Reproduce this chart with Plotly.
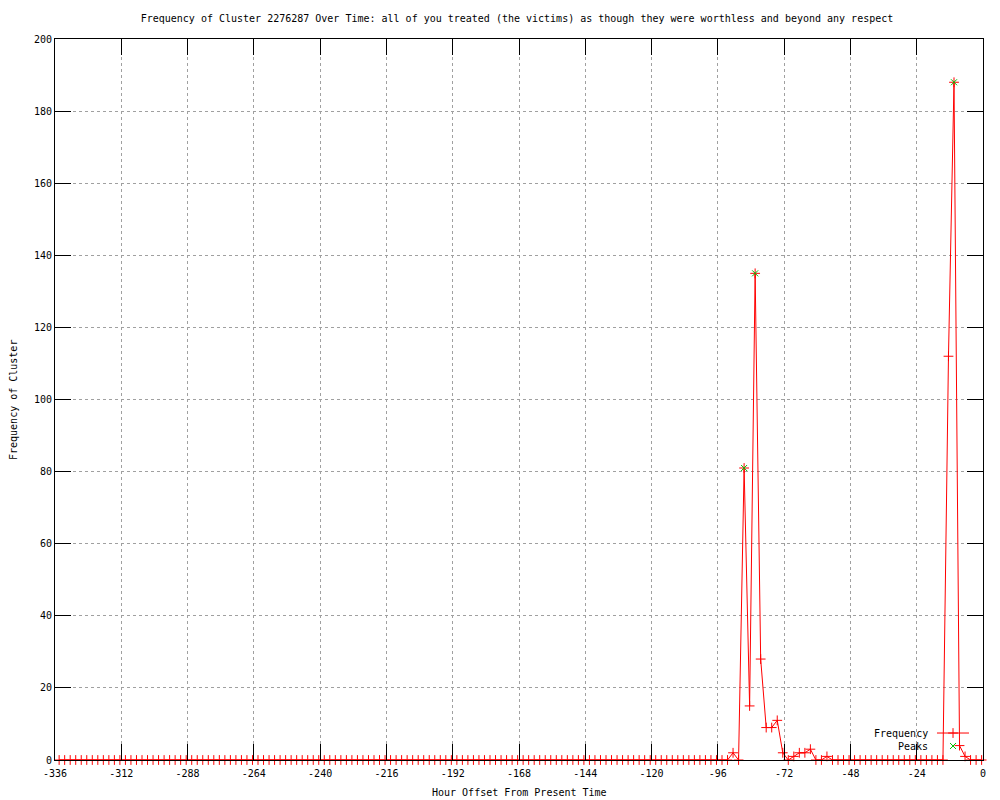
import plotly.graph_objects as go

# ---- data ----
title_text = ("Frequency of Cluster 2276287 Over Time: all of you treated "
              "(the victims) as though they were worthless and beyond any respect")

# 2-hour bins, hour offsets from -334.5 up to -0.5 (168 bins)
hours = [-0.5 - 2 * j for j in range(168)][::-1]

frequency = ([0] * 122
             + [2, 0, 81, 15, 135, 28, 9, 9, 11, 2, 0, 1, 2, 2, 3, 0, 0, 1]
             + [0] * 21
             + [112, 188, 4, 1, 0, 0, 0])

peak_hours = [-86.5, -82.5, -10.5]
peak_values = [81, 135, 188]

x_tickvals = [-336, -312, -288, -264, -240, -216, -192, -168, -144,
              -120, -96, -72, -48, -24, 0]
x_ticktext = ["-336", "-312", "-288", "-264", "-240", "-216", "-192", "-168",
              "-144", "-120", "-96", "-72", "-48", "-24", "0"]
y_tickvals = [0, 20, 40, 60, 80, 100, 120, 140, 160, 180, 200]

legend_names = ["Frequency", "Peaks"]

RED = "#ff0000"
GREEN = "#00c000"
FONT = "DejaVu Sans Mono"
FS = 10

# page body has an 8px margin; figure sized to sit inside the 1000x800 window
W, H = 992, 792

fig = go.Figure()

fig.add_trace(go.Scatter(
    x=hours, y=frequency, mode="lines+markers", name=legend_names[0],
    line=dict(color=RED, width=1),
    marker=dict(symbol="cross-thin", size=7, line=dict(color=RED, width=1)),
    showlegend=False, cliponaxis=False,
))
fig.add_trace(go.Scatter(
    x=peak_hours, y=peak_values, mode="markers", name=legend_names[1],
    marker=dict(symbol="x-thin", size=6, line=dict(color=GREEN, width=1)),
    showlegend=False, cliponaxis=False,
))

# legend samples on an invisible overlay axis (0..1 across the plot area)
fig.add_trace(go.Scatter(
    x=[0.9504, 0.9849], y=[0.0374, 0.0374], xaxis="x2", yaxis="y2",
    mode="lines", line=dict(color=RED, width=1), showlegend=False, hoverinfo="skip",
))
fig.add_trace(go.Scatter(
    x=[0.9677], y=[0.0374], xaxis="x2", yaxis="y2", mode="markers",
    marker=dict(symbol="cross-thin", size=7, line=dict(color=RED, width=1)),
    showlegend=False, hoverinfo="skip",
))
fig.add_trace(go.Scatter(
    x=[0.9677], y=[0.0194], xaxis="x2", yaxis="y2", mode="markers",
    marker=dict(symbol="x-thin", size=6, line=dict(color=GREEN, width=1)),
    showlegend=False, hoverinfo="skip",
))

axis_common = dict(
    showline=True, linecolor="black", linewidth=1, mirror="ticks",
    ticks="inside", ticklen=16, tickcolor="black", tickwidth=1,
    showgrid=True, gridcolor="#a0a0a0", griddash="dot", gridwidth=1,
    zeroline=False, tickfont=dict(family=FONT, size=FS, color="black"),
)

fig.update_layout(
    width=W, height=H,
    paper_bgcolor="white", plot_bgcolor="white",
    margin=dict(l=47, r=17, t=31, b=40),
    font=dict(family=FONT, size=FS, color="black"),
    title=dict(text=title_text, x=(517 - 8) / W, xanchor="center",
               y=1 - (18 - 8) / H, yanchor="middle", yref="container",
               font=dict(family=FONT, size=FS, color="black")),
    xaxis=dict(range=[-336, 0], tickmode="array", tickvals=x_tickvals,
               ticktext=x_ticktext, ticklabelstandoff=4, **axis_common),
    yaxis=dict(range=[0, 200], tickmode="array", tickvals=y_tickvals,
               **axis_common),
    xaxis2=dict(range=[0, 1], overlaying="x", visible=False),
    yaxis2=dict(range=[0, 1], overlaying="y", visible=False),
    showlegend=False,
)

annotations = [
    dict(text="Hour Offset From Present Time", xref="paper", yref="paper",
         x=(519 - 55) / 928, y=-(792 - 760) / 721, xanchor="center",
         yanchor="middle", showarrow=False),
    dict(text="Frequency of Cluster", xref="paper", yref="paper",
         x=-(55 - 13) / 928, y=(760 - 400) / 721, xanchor="center",
         yanchor="middle", textangle=-90, showarrow=False),
    dict(text=legend_names[0], xref="paper", yref="paper",
         x=(930 - 55) / 928, y=0.0374, xanchor="right", yanchor="middle",
         showarrow=False),
    dict(text=legend_names[1], xref="paper", yref="paper",
         x=(930 - 55) / 928, y=0.0194, xanchor="right", yanchor="middle",
         showarrow=False),
]
fig.update_layout(annotations=annotations)

fig.write_html("out.html")
